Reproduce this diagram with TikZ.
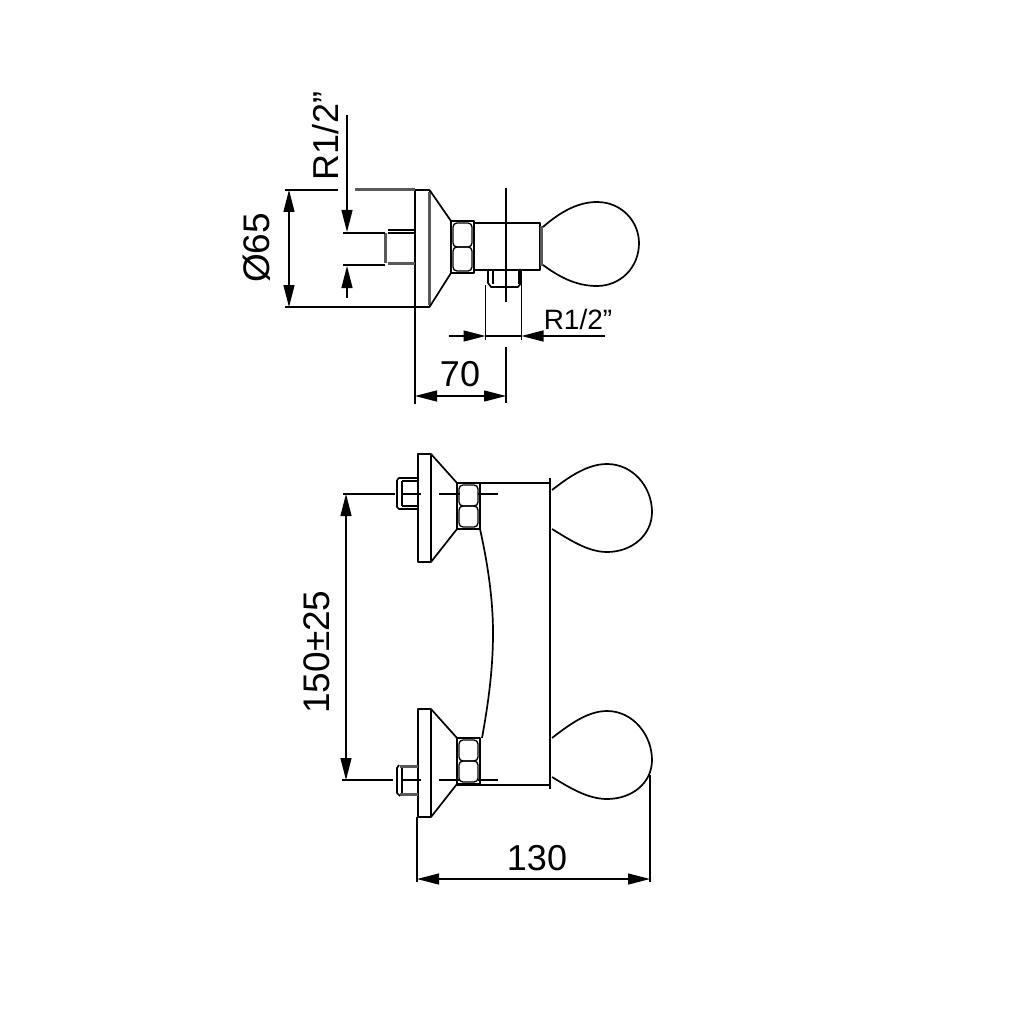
\documentclass[tikz,border=0pt]{standalone}
\usepackage{fontspec}
\setmainfont{Liberation Sans}
\usetikzlibrary{arrows.meta}
\tikzset{
part/.style={line width=1.7pt, line join=round},
nutface/.style={line width=1.3pt, rounded corners=4pt},
hair/.style={line width=1.2pt},
shade/.style={line width=3pt, black!65},
dim/.style={line width=1.2pt, -{Triangle[length=22pt,width=11pt]}},
dimboth/.style={line width=1.2pt, {Triangle[length=22pt,width=11pt]}-{Triangle[length=22pt,width=11pt]}},
lbl/.style={inner sep=0pt, font=\fontsize{36pt}{38pt}\selectfont},
tall/.style={inner sep=0pt, font=\fontsize{37pt}{39pt}\selectfont},
smalllbl/.style={inner sep=0pt, font=\fontsize{28pt}{30pt}\selectfont},
}
\begin{document}
\begin{tikzpicture}[x=1pt,y=-1pt]
\useasboundingbox (0,0) rectangle (1024,1024);
% side view
\draw[part] (415,190) rectangle (429.5,307);
\draw[shade] (429.5,192) -- (429.5,305);
\draw[part] (429.5,190) -- (451,221);
\draw[part] (429.5,307) -- (451,273);
\draw[part] (451,221) rectangle (474,273);
\draw[nutface] (453,223) rectangle (472,247);
\draw[nutface] (453,247) rectangle (472,271);
\draw[part] (474,223) rectangle (540,270);
\draw[shade] (541,226) -- (541,266);
\draw[part] (543,227) .. controls (560,212) and (578,202) .. (597,202) .. controls (622,202) and (639,222) .. (639,243) .. controls (639,268) and (620,286) .. (597,286) .. controls (575,286) and (558,276) .. (543,265);
% side view studs
\draw[part] (388,233) -- (415,233);
\draw[part] (388,230) -- (415,230);
\draw[shade] (388,263) -- (415,263);
\draw[shade] (385,233) -- (385,263);
\draw[part] (488,270) -- (488,283) -- (491,287) -- (518,287) -- (521,283) -- (521,270);
\draw[part] (493,270) -- (493,284);
\draw[part] (519,270) -- (519,284);
% side view dimensions
\coordinate (diaT) at (289,190);
\coordinate (diaB) at (289,307);
\draw[hair] (285,190) -- (338,190);
\draw[shade] (355,190) -- (415,190);
\draw[hair] (285,307) -- (415,307);
\draw[dimboth] (diaT) -- (diaB);
\node[tall, rotate=90] (dia65) at (257,248) {Ø65};
\coordinate (inTail) at (347,115);
\coordinate (inTip) at (347,232);
\coordinate (inTail2) at (347,298);
\coordinate (inTip2) at (347,266);
\draw[hair] (343,233) -- (385,233);
\draw[hair] (343,265) -- (385,265);
\draw[dim] (inTail) -- (inTip);
\draw[dim] (inTail2) -- (inTip2);
\node[lbl, rotate=90] (inlet) at (326,136) {R1/2”};
\draw[hair] (485.5,285) -- (485.5,340);
\draw[hair] (521.5,270) -- (521.5,340);
\coordinate (outTail) at (449,336);
\coordinate (outTip) at (485.5,336);
\coordinate (outTail2) at (605,336);
\coordinate (outTip2) at (521.5,336);
\draw[dim] (outTail) -- (outTip);
\draw[dim] (outTail2) -- (outTip2);
\draw[hair] (outTip) -- (outTip2);
\node[smalllbl] (outlet) at (578,319) {R1/2”};
\draw[hair] (506,188) -- (506,302);
\draw[hair] (506,347) -- (506,403);
\draw[hair] (415,307) -- (415,404);
\coordinate (depthL) at (415,396);
\coordinate (depthR) at (506,396);
\draw[dimboth] (depthL) -- (depthR);
\node[lbl] (depth70) at (460,374) {70};
% front view
\draw[part] (550,478) -- (550,789);
\draw[part] (457,483) -- (550,483);
\draw[part] (457,785) -- (550,785);
\draw[part] (480,529) .. controls (488,565) and (493,600) .. (493,633) .. controls (493,670) and (488,705) .. (482,738);
% upper fitting
\draw[part] (418,454) rectangle (431,562);
\draw[part] (431,454) -- (457,483);
\draw[part] (431,562) -- (457,529);
\draw[part] (457,483) rectangle (480,529);
\draw[nutface] (459,485) rectangle (478,506);
\draw[nutface] (459,506) rectangle (478,527);
\draw[part] (397,480) -- (399,478) -- (418,478);
\draw[part] (397,480) -- (397,507) -- (399,509) -- (418,509);
\draw[part] (402,481) -- (418,481);
\draw[part] (402,506) -- (418,506);
\draw[part] (402,481) -- (402,506);
\draw[part] (552,490) .. controls (570,476) and (588,464) .. (607,464) .. controls (633,464) and (652,487) .. (652,512) .. controls (652,535) and (632,552) .. (607,552) .. controls (588,552) and (570,540) .. (552,529);
% lower fitting
\draw[part] (418,709) rectangle (431,817);
\draw[part] (431,709) -- (457,738);
\draw[part] (431,817) -- (457,784);
\draw[part] (457,738) rectangle (480,784);
\draw[nutface] (459,740) rectangle (478,761);
\draw[nutface] (459,761) rectangle (478,782);
\draw[shade] (400,766) -- (418,766);
\draw[shade] (400,794) -- (418,794);
\draw[part] (399,765) -- (397,768) -- (397,793) -- (400,796);
\draw[part] (402,768) -- (402,793);
\draw[part] (552,738) .. controls (570,724) and (588,711) .. (607,711) .. controls (633,711) and (652,735) .. (652,760) .. controls (652,783) and (632,799) .. (607,799) .. controls (588,799) and (570,788) .. (552,777);
% front view center lines
\draw[hair] (343,494) -- (395,494);
\draw[hair] (402,494) -- (421,494);
\draw[hair] (439,494) -- (460,494);
\draw[hair] (478,494) -- (498,494);
\draw[hair] (342,780) -- (393,780);
\draw[hair] (402,780) -- (421,780);
\draw[hair] (439,780) -- (460,780);
\draw[hair] (478,780) -- (498,780);
% front view dimensions
\coordinate (pitchT) at (346,494);
\coordinate (pitchB) at (346,780);
\draw[dimboth] (pitchT) -- (pitchB);
\node[tall, rotate=90] (pitch) at (317,652) {150±25};
\draw[hair] (417,817) -- (417,882);
\draw[hair] (650,775) -- (650,882);
\coordinate (widthL) at (417,879);
\coordinate (widthR) at (650,879);
\draw[dimboth] (widthL) -- (widthR);
\node[lbl] (width130) at (537,858) {130};
\end{tikzpicture}
\end{document}
